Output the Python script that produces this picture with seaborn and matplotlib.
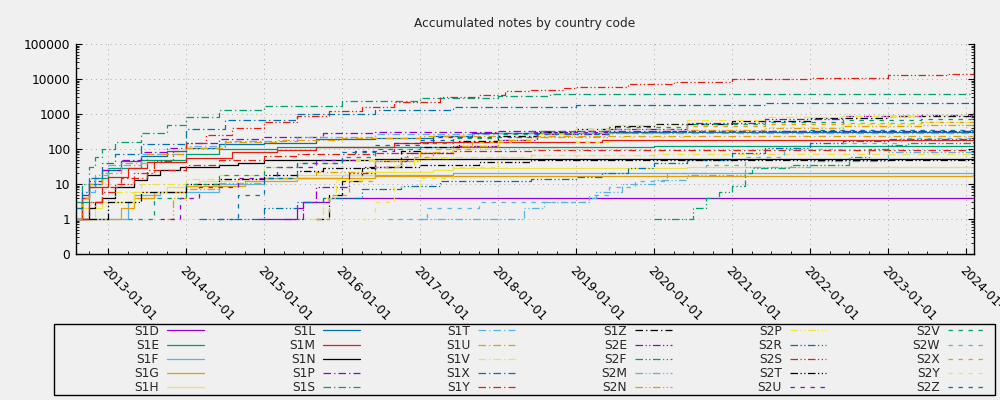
import pandas as pd
import seaborn as sns
import matplotlib.pyplot as plt
import matplotlib.dates as mdates
import matplotlib.ticker as mticker
from matplotlib.patches import Rectangle

# series data: step points (month, accumulated notes)
S1D_dates = ["2014-12", "2015-06", "2015-07", "2015-11", "2024-02"]
S1D_counts = [1, 2, 3, 4, 4]
S1E_dates = ["2012-08", "2012-09", "2012-10", "2012-11", "2013-01", "2013-06", "2014-01", "2014-06", "2015-03", "2020-01", "2024-02"]
S1E_counts = [1, 3, 8, 15, 28, 50, 72, 100, 116, 120, 122]
S1F_dates = ["2012-08", "2013-04", "2013-05", "2013-09", "2014-06", "2015-01", "2016-01", "2017-06", "2020-01", "2024-02"]
S1F_counts = [1, 3, 5, 6, 10, 15, 18, 20, 21, 21]
S1G_dates = ["2012-10", "2013-03", "2013-05", "2013-08", "2014-01", "2014-10", "2015-06", "2016-06", "2024-02"]
S1G_counts = [1, 2, 4, 6, 9, 12, 15, 17, 18]
S1H_dates = ["2012-08", "2012-09", "2012-12", "2013-05", "2013-10", "2014-03", "2014-09", "2015-06", "2016-06", "2017-03", "2017-06", "2020-06", "2024-02"]
S1H_counts = [1, 2, 3, 6, 8, 12, 14, 18, 22, 25, 28, 30, 31]
S1L_dates = ["2012-08", "2012-09", "2012-10", "2012-12", "2013-03", "2013-06", "2013-10", "2014-01", "2014-06", "2015-01", "2015-09", "2016-06", "2017-03", "2017-09", "2019-06", "2021-01", "2024-02"]
S1L_counts = [1, 4, 10, 25, 45, 65, 90, 110, 135, 150, 190, 210, 235, 280, 300, 315, 320]
S1M_dates = ["2012-08", "2012-09", "2012-10", "2013-01", "2013-04", "2013-07", "2014-01", "2014-08", "2015-03", "2015-09", "2016-09", "2017-01", "2019-05", "2024-02"]
S1M_counts = [1, 4, 8, 16, 28, 43, 54, 84, 93, 116, 145, 160, 180, 180]
S1N_dates = ["2012-09", "2012-10", "2012-11", "2012-12", "2013-02", "2013-05", "2013-07", "2013-09", "2013-12", "2014-06", "2014-09", "2015-01", "2016-06", "2024-02"]
S1N_counts = [1, 2, 3, 4, 8, 13, 18, 25, 30, 35, 39, 48, 53, 53]
S1P_dates = ["2012-08", "2012-09", "2012-10", "2012-12", "2013-03", "2013-06", "2013-10", "2014-01", "2014-06", "2015-01", "2015-10", "2016-06", "2018-01", "2024-02"]
S1P_counts = [1, 5, 12, 25, 50, 80, 110, 150, 190, 220, 280, 300, 320, 330]
S1S_dates = ["2012-08", "2012-09", "2012-10", "2012-11", "2012-12", "2013-02", "2013-06", "2013-10", "2014-01", "2014-06", "2015-01", "2016-01", "2017-01", "2018-01", "2018-09", "2024-02"]
S1S_counts = [3, 10, 30, 60, 100, 160, 280, 500, 800, 1300, 1700, 2300, 2800, 3300, 3700, 3800]
S1T_dates = ["2012-08", "2012-09", "2012-11", "2013-01", "2013-06", "2014-01", "2014-07", "2015-06", "2016-06", "2018-01", "2020-01", "2024-02"]
S1T_counts = [2, 6, 18, 35, 70, 120, 170, 220, 260, 280, 290, 300]
S1U_dates = ["2012-08", "2012-09", "2012-10", "2012-12", "2013-03", "2013-07", "2014-01", "2014-07", "2015-03", "2016-01", "2017-01", "2019-01", "2024-02"]
S1U_counts = [1, 4, 10, 20, 40, 70, 110, 160, 185, 210, 230, 235, 240]
S1V_dates = ["2012-09", "2012-11", "2013-02", "2013-06", "2014-01", "2014-06", "2015-01", "2015-06", "2016-01", "2017-01", "2018-06", "2020-01", "2024-02"]
S1V_counts = [1, 3, 6, 10, 14, 18, 30, 40, 50, 60, 68, 71, 72]
S1X_dates = ["2012-08", "2012-09", "2012-10", "2012-12", "2013-02", "2013-06", "2014-01", "2014-07", "2015-06", "2016-06", "2017-06", "2019-01", "2021-06", "2022-06", "2024-02"]
S1X_counts = [2, 6, 15, 40, 70, 140, 370, 680, 1000, 1300, 1600, 1850, 2000, 2100, 2150]
S1Y_dates = ["2012-09", "2012-10", "2012-12", "2013-03", "2013-07", "2014-01", "2014-06", "2015-01", "2015-06", "2016-06", "2017-06", "2018-06", "2024-02"]
S1Y_counts = [1, 3, 8, 15, 25, 35, 48, 62, 70, 78, 88, 93, 95]
S1Z_dates = ["2015-09", "2015-11", "2016-01", "2016-04", "2016-10", "2017-01", "2017-07", "2018-01", "2018-07", "2019-01", "2019-07", "2020-01", "2021-01", "2022-01", "2023-01", "2024-02"]
S1Z_counts = [1, 5, 12, 30, 90, 115, 170, 230, 300, 380, 450, 520, 620, 750, 880, 1000]
S2E_dates = ["2015-04", "2015-07", "2015-09", "2016-02", "2016-06", "2016-11", "2017-06", "2018-01", "2018-07", "2019-06", "2020-06", "2021-06", "2022-06", "2023-06", "2024-02"]
S2E_counts = [1, 3, 8, 20, 45, 75, 120, 180, 260, 380, 550, 700, 850, 950, 1050]
S2F_dates = ["2020-01", "2020-07", "2020-09", "2020-11", "2021-01", "2021-03", "2021-04", "2021-10", "2022-07", "2022-10", "2023-01", "2023-04", "2024-02"]
S2F_counts = [1, 2, 4, 6, 9, 20, 28, 35, 60, 98, 130, 150, 170]
S2M_dates = ["2017-01", "2018-05", "2018-08", "2019-03", "2019-04", "2019-08", "2020-01", "2020-06", "2021-03", "2022-01", "2023-01", "2024-02"]
S2M_counts = [1, 2, 3, 4, 6, 10, 13, 18, 30, 45, 80, 100]
S2N_dates = ["2013-10", "2013-11", "2014-01", "2014-06", "2015-01", "2015-09", "2016-06", "2017-01", "2017-06", "2018-01", "2018-06", "2019-06", "2020-06", "2021-06", "2022-06", "2023-06", "2024-02"]
S2N_counts = [1, 4, 7, 11, 15, 22, 45, 80, 120, 180, 220, 280, 350, 400, 440, 470, 490]
S2P_dates = ["2015-08", "2015-10", "2015-12", "2016-04", "2016-09", "2016-12", "2017-06", "2018-01", "2018-06", "2019-01", "2019-06", "2020-06", "2021-06", "2022-06", "2023-06", "2024-02"]
S2P_counts = [1, 4, 13, 22, 35, 55, 100, 170, 260, 380, 500, 680, 800, 900, 950, 1000]
S2R_dates = ["2014-03", "2015-01", "2015-06", "2015-10", "2016-04", "2016-10", "2017-04", "2018-06", "2019-01", "2019-05", "2019-09", "2020-01", "2020-06", "2021-01", "2021-06", "2022-01", "2022-06", "2023-01", "2024-02"]
S2R_counts = [1, 2, 3, 4, 7, 9, 12, 14, 16, 20, 28, 40, 50, 75, 105, 145, 170, 190, 200]
S2S_dates = ["2012-09", "2012-10", "2012-12", "2013-02", "2013-05", "2013-08", "2013-11", "2014-01", "2014-04", "2014-08", "2015-01", "2015-06", "2015-11", "2016-04", "2016-09", "2017-04", "2017-10", "2018-02", "2018-06", "2018-11", "2019-01", "2019-09", "2020-04", "2021-01", "2022-01", "2023-01", "2023-10", "2024-02"]
S2S_counts = [1, 3, 6, 10, 20, 45, 90, 150, 250, 400, 600, 850, 1200, 1550, 2200, 3100, 3500, 4400, 5000, 5500, 5800, 7100, 8000, 9800, 11000, 12900, 14000, 14500]
S2T_dates = ["2012-10", "2013-01", "2013-06", "2014-01", "2014-06", "2015-01", "2015-06", "2015-10", "2016-06", "2017-01", "2017-10", "2018-06", "2020-01", "2024-02"]
S2T_counts = [1, 3, 6, 10, 14, 18, 24, 28, 31, 35, 43, 48, 50, 52]
S2U_dates = ["2013-09", "2013-12", "2014-03", "2014-09", "2015-03", "2015-09", "2016-03", "2016-09", "2017-03", "2017-09", "2018-06", "2020-01", "2024-02"]
S2U_counts = [1, 4, 8, 15, 30, 50, 90, 150, 220, 280, 310, 325, 335]
S2V_dates = ["2013-04", "2013-08", "2014-01", "2014-06", "2015-01", "2015-06", "2016-01", "2016-06", "2017-01", "2017-06", "2018-01", "2018-06", "2019-06", "2020-06", "2021-06", "2022-06", "2023-06", "2024-02"]
S2V_counts = [1, 4, 10, 18, 30, 40, 60, 100, 150, 200, 270, 330, 420, 520, 600, 680, 730, 760]
S2W_dates = ["2016-08", "2017-02", "2017-10", "2019-03", "2019-06", "2019-10", "2020-03", "2020-09", "2021-03", "2021-09", "2022-06", "2023-03", "2024-02"]
S2W_counts = [1, 2, 3, 5, 8, 12, 20, 35, 60, 100, 150, 200, 240]
S2X_dates = ["2015-09", "2015-11", "2016-02", "2016-06", "2016-10", "2017-03", "2017-09", "2018-03", "2018-09", "2019-06", "2020-06", "2021-06", "2022-06", "2023-06", "2024-02"]
S2X_counts = [1, 5, 12, 30, 60, 100, 160, 220, 290, 370, 450, 510, 560, 600, 615]
S2Y_dates = ["2016-04", "2016-06", "2016-09", "2017-01", "2017-06", "2018-01", "2018-06", "2019-01", "2019-06", "2020-06", "2021-06", "2022-06", "2023-06", "2024-02"]
S2Y_counts = [1, 3, 8, 15, 30, 60, 100, 160, 220, 330, 420, 520, 600, 650]
S2Z_dates = ["2014-06", "2014-09", "2015-01", "2015-06", "2016-01", "2016-06", "2017-01", "2017-06", "2018-06", "2019-06", "2020-06", "2022-01", "2024-02"]
S2Z_counts = [1, 5, 15, 40, 80, 130, 180, 220, 270, 310, 330, 340, 350]

codes = ["S1D", "S1E", "S1F", "S1G", "S1H", "S1L", "S1M", "S1N",
         "S1P", "S1S", "S1T", "S1U", "S1V", "S1X", "S1Y", "S1Z",
         "S2E", "S2F", "S2M", "S2N", "S2P", "S2R", "S2S", "S2T",
         "S2U", "S2V", "S2W", "S2X", "S2Y", "S2Z"]

y_ticks = [0.1, 1, 10, 100, 1000, 10000, 100000]
y_ticklabels = ["0", "1", "10", "100", "1000", "10000", "100000"]

# gnuplot default colour cycle and dash types
colors = ["#9400d3", "#009e73", "#56b4e9", "#e69f00", "#f0e442", "#0072b2", "#e51e10", "#000000"]
dash_types = ["", (6, 2.5, 1, 2.5), (6, 2, 1, 2, 1, 2), (3.5, 4.5)]

rows = []
for code in codes:
    d = globals()[code + "_dates"]
    c = globals()[code + "_counts"]
    for di, ci in zip(d, c):
        rows.append({"code": code, "date": pd.to_datetime(di), "count": ci})
df = pd.DataFrame(rows)

palette = {code: colors[i % 8] for i, code in enumerate(codes)}
dashes = {code: dash_types[i // 8] for i, code in enumerate(codes)}

sns.set_style("white")
plt.rcParams["font.family"] = ["DejaVu Sans"]
plt.rcParams["font.size"] = 8.8

fig = plt.figure(figsize=(10, 4), dpi=100, facecolor="#f0f0f0")
ax = fig.add_axes([0.076, 0.365, 0.898, 0.525])
ax.set_facecolor("#f0f0f0")

sns.lineplot(data=df, x="date", y="count", hue="code", style="code",
             hue_order=codes, style_order=codes, palette=palette, dashes=dashes,
             estimator=None, drawstyle="steps-post", linewidth=0.9,
             legend="full", ax=ax)

ax.set_yscale("log")
ax.set_ylim(0.1, 100000)
ax.yaxis.set_major_locator(mticker.FixedLocator(y_ticks))
ax.yaxis.set_major_formatter(mticker.FixedFormatter(y_ticklabels))
ax.yaxis.set_minor_locator(mticker.LogLocator(base=10, subs=range(2, 10), numticks=20))
ax.yaxis.set_minor_formatter(mticker.NullFormatter())

ax.set_xlim(pd.Timestamp("2012-08-02"), pd.Timestamp("2024-02-06"))
ax.xaxis.set_major_locator(mdates.YearLocator())
ax.xaxis.set_minor_locator(mdates.MonthLocator(bymonth=[4, 7, 10]))
ax.xaxis.set_major_formatter(mdates.DateFormatter("%Y-%m-%d"))
for lab in ax.get_xticklabels():
    lab.set_rotation(-45)
    lab.set_ha("left")
    lab.set_va("top")
    lab.set_rotation_mode("anchor")

ax.tick_params(which="both", direction="in", left=True, right=True, bottom=True, top=False, colors="black")
ax.tick_params(which="major", length=4, width=0.8, pad=4)
ax.tick_params(which="minor", length=2, width=0.6)
ax.tick_params(axis="x", which="major", pad=7)

ax.grid(True, which="major", color="#a8a8a8", linestyle=(0, (1, 4)), linewidth=0.7)
ax.spines["top"].set_visible(False)
for side in ["left", "bottom", "right"]:
    ax.spines[side].set_color("black")
    ax.spines[side].set_linewidth(1.0)

ax.set_xlabel("")
ax.set_ylabel("")
ax.set_title("Accumulated notes by country code", fontsize=8.8, pad=12)

handles, labels = ax.get_legend_handles_labels()
ax.get_legend().remove()
fig.legend(handles, labels, ncol=6, loc="upper right", bbox_to_anchor=(0.993, 0.21),
           frameon=False, markerfirst=False, handlelength=3.0, handletextpad=0.65,
           columnspacing=7.03, labelspacing=0.1, borderpad=0.2, fontsize=8.8)
fig.add_artist(Rectangle((0.054, 0.0125), 0.941, 0.1775, transform=fig.transFigure,
                         fill=False, edgecolor="black", linewidth=1.0))

fig.savefig("out.png", dpi=100, facecolor=fig.get_facecolor())
